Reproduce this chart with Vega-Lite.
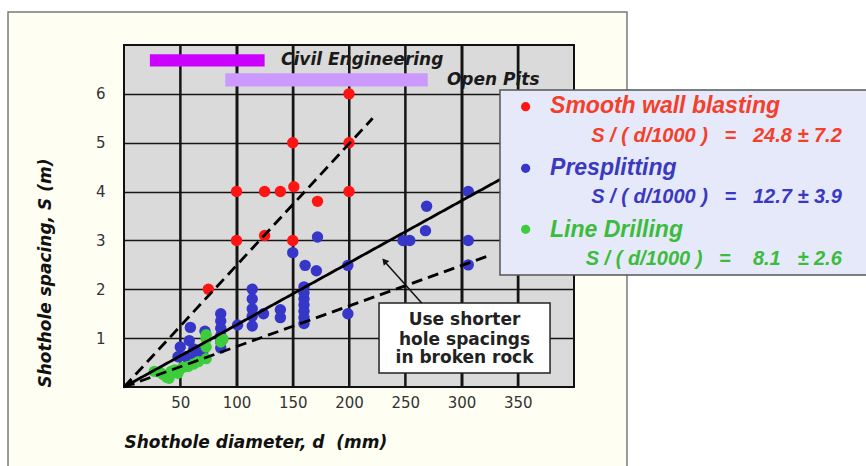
{
  "$schema": "https://vega.github.io/schema/vega-lite/v6.json",
  "width": 450,
  "height": 342,
  "autosize": "none",
  "padding": {"left": 124, "top": 45, "right": 292, "bottom": 79},
  "background": "#fefef3",
  "config": {
    "view": {"fill": "#dadada", "stroke": "#111", "strokeWidth": 2}
  },
  "datasets": {
    "points": [
      {"method": "Presplitting", "d": 48, "S": 0.62},
      {"method": "Presplitting", "d": 50, "S": 0.82},
      {"method": "Presplitting", "d": 55, "S": 0.62},
      {"method": "Presplitting", "d": 58, "S": 0.95},
      {"method": "Presplitting", "d": 59, "S": 1.22},
      {"method": "Presplitting", "d": 62, "S": 0.78},
      {"method": "Presplitting", "d": 64, "S": 0.62},
      {"method": "Presplitting", "d": 70, "S": 0.72},
      {"method": "Presplitting", "d": 72, "S": 1.14},
      {"method": "Presplitting", "d": 86, "S": 1.5},
      {"method": "Presplitting", "d": 86, "S": 1.35},
      {"method": "Presplitting", "d": 86, "S": 1.2},
      {"method": "Presplitting", "d": 86, "S": 1.05},
      {"method": "Presplitting", "d": 86, "S": 0.92},
      {"method": "Presplitting", "d": 86, "S": 0.8},
      {"method": "Presplitting", "d": 101, "S": 1.27},
      {"method": "Presplitting", "d": 114, "S": 2.0},
      {"method": "Presplitting", "d": 114, "S": 1.8},
      {"method": "Presplitting", "d": 114, "S": 1.6},
      {"method": "Presplitting", "d": 114, "S": 1.45},
      {"method": "Presplitting", "d": 114, "S": 1.25},
      {"method": "Presplitting", "d": 124, "S": 1.5},
      {"method": "Presplitting", "d": 139, "S": 1.58},
      {"method": "Presplitting", "d": 139, "S": 1.42},
      {"method": "Presplitting", "d": 150, "S": 2.75},
      {"method": "Presplitting", "d": 160, "S": 2.05},
      {"method": "Presplitting", "d": 160, "S": 1.93},
      {"method": "Presplitting", "d": 160, "S": 1.8},
      {"method": "Presplitting", "d": 160, "S": 1.68},
      {"method": "Presplitting", "d": 160, "S": 1.55},
      {"method": "Presplitting", "d": 160, "S": 1.42},
      {"method": "Presplitting", "d": 160, "S": 1.3},
      {"method": "Presplitting", "d": 161, "S": 2.49},
      {"method": "Presplitting", "d": 171, "S": 2.38},
      {"method": "Presplitting", "d": 172, "S": 3.07},
      {"method": "Presplitting", "d": 199, "S": 2.49},
      {"method": "Presplitting", "d": 199, "S": 1.5},
      {"method": "Presplitting", "d": 248, "S": 3.0},
      {"method": "Presplitting", "d": 254, "S": 3.0},
      {"method": "Presplitting", "d": 268, "S": 3.2},
      {"method": "Presplitting", "d": 269, "S": 3.7},
      {"method": "Presplitting", "d": 306, "S": 4.0},
      {"method": "Presplitting", "d": 306, "S": 3.0},
      {"method": "Presplitting", "d": 306, "S": 2.5},
      {"method": "Line Drilling", "d": 27, "S": 0.32},
      {"method": "Line Drilling", "d": 32, "S": 0.3},
      {"method": "Line Drilling", "d": 35, "S": 0.25},
      {"method": "Line Drilling", "d": 38, "S": 0.2},
      {"method": "Line Drilling", "d": 40, "S": 0.18},
      {"method": "Line Drilling", "d": 42, "S": 0.32},
      {"method": "Line Drilling", "d": 45, "S": 0.35},
      {"method": "Line Drilling", "d": 48, "S": 0.28},
      {"method": "Line Drilling", "d": 52, "S": 0.4},
      {"method": "Line Drilling", "d": 57, "S": 0.42},
      {"method": "Line Drilling", "d": 62, "S": 0.47},
      {"method": "Line Drilling", "d": 66, "S": 0.52},
      {"method": "Line Drilling", "d": 73, "S": 0.58},
      {"method": "Line Drilling", "d": 73, "S": 0.82},
      {"method": "Line Drilling", "d": 73, "S": 0.98},
      {"method": "Line Drilling", "d": 73, "S": 1.07},
      {"method": "Line Drilling", "d": 86, "S": 0.92},
      {"method": "Line Drilling", "d": 88, "S": 0.98},
      {"method": "Smooth wall blasting", "d": 75, "S": 2.0},
      {"method": "Smooth wall blasting", "d": 100, "S": 3.0},
      {"method": "Smooth wall blasting", "d": 100, "S": 4.0},
      {"method": "Smooth wall blasting", "d": 125, "S": 3.1},
      {"method": "Smooth wall blasting", "d": 125, "S": 4.0},
      {"method": "Smooth wall blasting", "d": 139, "S": 4.0},
      {"method": "Smooth wall blasting", "d": 151, "S": 4.1},
      {"method": "Smooth wall blasting", "d": 150, "S": 3.0},
      {"method": "Smooth wall blasting", "d": 150, "S": 5.0},
      {"method": "Smooth wall blasting", "d": 172, "S": 3.8},
      {"method": "Smooth wall blasting", "d": 200, "S": 4.0},
      {"method": "Smooth wall blasting", "d": 200, "S": 5.0},
      {"method": "Smooth wall blasting", "d": 200, "S": 6.0}
    ],
    "lines": [
      {"line": "upper", "d": 0, "S": 0},
      {"line": "upper", "d": 221, "S": 5.5},
      {"line": "mean", "d": 0, "S": 0},
      {"line": "mean", "d": 340, "S": 4.32},
      {"line": "lower", "d": 0, "S": 0},
      {"line": "lower", "d": 327, "S": 2.71}
    ],
    "ranges": [
      {"range": "Civil Engineering", "d": 23, "dmax": 125},
      {"range": "Open Pits", "d": 90, "dmax": 270}
    ],
    "xgrid": [
      {"d": 50}, {"d": 100}, {"d": 150}, {"d": 200}, {"d": 250}, {"d": 300}, {"d": 350}
    ],
    "one": [{}]
  },
  "layer": [
    {
      "data": {"name": "points"},
      "mark": {"type": "point", "opacity": 0, "size": 1},
      "encoding": {
        "x": {
          "field": "d", "type": "quantitative",
          "scale": {"domain": [0, 400], "nice": false, "zero": false},
          "axis": {
            "values": [50, 100, 150, 200, 250, 300, 350],
            "grid": true, "gridColor": "#151515", "gridWidth": 2,
            "ticks": false, "domain": false,
            "labelFont": "DejaVu Sans", "labelFontSize": 15, "labelColor": "#333", "labelPadding": 8,
            "title": "Shothole diameter, d\u00a0 (mm)",
            "titleFont": "DejaVu Sans", "titleFontSize": 17, "titleFontWeight": "bold", "titleFontStyle": "italic", "titleColor": "#111",
            "titleAnchor": "start", "titleAlign": "left", "titleX": 0, "titleY": 60, "titleBaseline": "alphabetic"
          }
        },
        "y": {
          "field": "S", "type": "quantitative",
          "scale": {"domain": [0, 7], "nice": false, "zero": false},
          "axis": {
            "values": [1, 2, 3, 4, 5, 6],
            "grid": true, "gridColor": "#151515", "gridWidth": 1.5,
            "ticks": false, "domain": false,
            "labelFont": "DejaVu Sans", "labelFontSize": 15, "labelColor": "#333", "labelPadding": 19,
            "title": "Shothole spacing, S (m)",
            "titleFont": "DejaVu Sans", "titleFontSize": 17, "titleFontWeight": "bold", "titleFontStyle": "italic", "titleColor": "#111",
            "titleAngle": 270, "titleAnchor": "start", "titleAlign": "left", "titleBaseline": "middle", "titleX": -79, "titleY": 342
          }
        }
      }
    },
    {
      "data": {"name": "one"},
      "mark": {"type": "rect", "color": "#ffffff"},
      "encoding": {"x": {"datum": -130}, "x2": {"datum": -103.1}, "y": {"datum": -2.5}, "y2": {"datum": 8.6}}
    },
    {
      "data": {"name": "one"},
      "mark": {"type": "rect", "color": "#ffffff"},
      "encoding": {"x": {"datum": -130}, "x2": {"datum": 700}, "y": {"datum": 7.675}, "y2": {"datum": 8.6}}
    },
    {
      "data": {"name": "one"},
      "mark": {"type": "rect", "color": "#ffffff"},
      "encoding": {"x": {"datum": 447.1}, "x2": {"datum": 700}, "y": {"datum": -2.5}, "y2": {"datum": 8.6}}
    },
    {
      "data": {"name": "one"},
      "mark": {"type": "rect", "fillOpacity": 0, "stroke": "#7a7a7a", "strokeWidth": 1.5},
      "encoding": {"x": {"datum": -103.1}, "x2": {"datum": 447.1}, "y": {"datum": -2.5}, "y2": {"datum": 7.675}}
    },
    {
      "data": {"name": "xgrid"},
      "mark": {"type": "tick", "orient": "vertical", "size": 342, "thickness": 2, "color": "#151515", "opacity": 1},
      "encoding": {"x": {"field": "d", "type": "quantitative"}, "y": {"datum": 3.5}}
    },
    {
      "data": {"name": "ranges"},
      "transform": [{"filter": "datum.range === 'Civil Engineering'"}],
      "mark": {"type": "rect", "color": "#cc00ff"},
      "encoding": {
        "x": {"field": "d", "type": "quantitative"},
        "x2": {"field": "dmax"},
        "y": {"datum": 6.56}, "y2": {"datum": 6.81}
      }
    },
    {
      "data": {"name": "ranges"},
      "transform": [{"filter": "datum.range === 'Open Pits'"}],
      "mark": {"type": "rect", "color": "#cc99ff"},
      "encoding": {
        "x": {"field": "d", "type": "quantitative"},
        "x2": {"field": "dmax"},
        "y": {"datum": 6.15}, "y2": {"datum": 6.42}
      }
    },
    {
      "data": {"name": "ranges"},
      "transform": [{"filter": "datum.range === 'Civil Engineering'"}],
      "mark": {"type": "text", "align": "left", "baseline": "middle", "font": "DejaVu Sans", "fontSize": 17, "fontWeight": "bold", "fontStyle": "italic", "color": "#1a1a1a"},
      "encoding": {"x": {"datum": 139.6}, "y": {"datum": 6.69}, "text": {"field": "range"}}
    },
    {
      "data": {"name": "ranges"},
      "transform": [{"filter": "datum.range === 'Open Pits'"}],
      "mark": {"type": "text", "align": "left", "baseline": "middle", "font": "DejaVu Sans", "fontSize": 17, "fontWeight": "bold", "fontStyle": "italic", "color": "#1a1a1a"},
      "encoding": {"x": {"datum": 287}, "y": {"datum": 6.28}, "text": {"field": "range"}}
    },
    {
      "data": {"name": "points"},
      "mark": {"type": "circle", "size": 130, "opacity": 1},
      "encoding": {
        "x": {"field": "d", "type": "quantitative"},
        "y": {"field": "S", "type": "quantitative"},
        "color": {
          "field": "method", "type": "nominal",
          "scale": {"domain": ["Smooth wall blasting", "Presplitting", "Line Drilling"], "range": ["#ff1414", "#3636c8", "#3ccc3c"]},
          "legend": null
        }
      }
    },
    {
      "data": {"name": "lines"},
      "mark": {"type": "line", "color": "#000", "strokeWidth": 2.8},
      "encoding": {
        "x": {"field": "d", "type": "quantitative"},
        "y": {"field": "S", "type": "quantitative"},
        "detail": {"field": "line"},
        "strokeDash": {
          "field": "line", "type": "nominal",
          "scale": {"domain": ["upper", "mean", "lower"], "range": [[11, 6], [1, 0], [11, 6]]},
          "legend": null
        }
      }
    },
    {
      "data": {"name": "one"},
      "mark": {"type": "point", "shape": "triangle-up", "filled": true, "color": "#000", "size": 70, "angle": 241, "opacity": 1},
      "encoding": {"x": {"datum": 5}, "y": {"datum": 0.07}}
    },
    {
      "data": {"name": "one"},
      "mark": {"type": "rect", "fill": "#e6e9f9", "stroke": "#555", "strokeWidth": 1.5},
      "encoding": {"x": {"datum": 334.2}, "x2": {"datum": 662}, "y": {"datum": 6.08}, "y2": {"datum": 2.29}}
    },
    {
      "data": {"name": "one"},
      "mark": {"type": "circle", "size": 85, "opacity": 1, "color": "#ff1414"},
      "encoding": {"x": {"datum": 357}, "y": {"datum": 5.737}}
    },
    {
      "data": {"name": "one"},
      "mark": {"type": "circle", "size": 85, "opacity": 1, "color": "#3636c8"},
      "encoding": {"x": {"datum": 357}, "y": {"datum": 4.476}}
    },
    {
      "data": {"name": "one"},
      "mark": {"type": "circle", "size": 85, "opacity": 1, "color": "#3ccc3c"},
      "encoding": {"x": {"datum": 357}, "y": {"datum": 3.228}}
    },
    {
      "data": {"name": "one"},
      "mark": {"type": "text", "text": "Smooth wall blasting", "align": "left", "baseline": "alphabetic", "font": "Liberation Sans", "fontSize": 23, "fontWeight": "bold", "fontStyle": "italic", "color": "#f2402c"},
      "encoding": {"x": {"datum": 378.7}, "y": {"datum": 5.6}}
    },
    {
      "data": {"name": "one"},
      "mark": {"type": "text", "text": "S / ( d/1000 )\u00a0\u00a0 =\u00a0\u00a0 24.8 ± 7.2", "align": "right", "baseline": "alphabetic", "font": "Liberation Sans", "fontSize": 20, "fontWeight": "bold", "fontStyle": "italic", "color": "#f2402c"},
      "encoding": {"x": {"datum": 638}, "y": {"datum": 5.02}}
    },
    {
      "data": {"name": "one"},
      "mark": {"type": "text", "text": "Presplitting", "align": "left", "baseline": "alphabetic", "font": "Liberation Sans", "fontSize": 23, "fontWeight": "bold", "fontStyle": "italic", "color": "#3a3ac0"},
      "encoding": {"x": {"datum": 378.7}, "y": {"datum": 4.34}}
    },
    {
      "data": {"name": "one"},
      "mark": {"type": "text", "text": "S / ( d/1000 )\u00a0\u00a0 =\u00a0\u00a0 12.7 ± 3.9", "align": "right", "baseline": "alphabetic", "font": "Liberation Sans", "fontSize": 20, "fontWeight": "bold", "fontStyle": "italic", "color": "#3a3ac0"},
      "encoding": {"x": {"datum": 638}, "y": {"datum": 3.76}}
    },
    {
      "data": {"name": "one"},
      "mark": {"type": "text", "text": "Line Drilling", "align": "left", "baseline": "alphabetic", "font": "Liberation Sans", "fontSize": 23, "fontWeight": "bold", "fontStyle": "italic", "color": "#3cbc3c"},
      "encoding": {"x": {"datum": 378.7}, "y": {"datum": 3.077}}
    },
    {
      "data": {"name": "one"},
      "mark": {"type": "text", "text": "S / ( d/1000 )\u00a0\u00a0 =\u00a0\u00a0\u00a0 8.1\u00a0\u00a0 ± 2.6", "align": "right", "baseline": "alphabetic", "font": "Liberation Sans", "fontSize": 20, "fontWeight": "bold", "fontStyle": "italic", "color": "#3cbc3c"},
      "encoding": {"x": {"datum": 638}, "y": {"datum": 2.497}}
    },
    {
      "data": {"name": "one"},
      "mark": {"type": "rect", "fill": "#ffffff", "stroke": "#222", "strokeWidth": 1.5},
      "encoding": {"x": {"datum": 226.7}, "x2": {"datum": 378.7}, "y": {"datum": 1.719}, "y2": {"datum": 0.287}}
    },
    {
      "data": {"name": "one"},
      "mark": {"type": "text", "text": "Use shorter", "align": "center", "baseline": "alphabetic", "font": "DejaVu Sans", "fontSize": 17, "fontWeight": "bold", "color": "#222"},
      "encoding": {"x": {"datum": 302.7}, "y": {"datum": 1.269}}
    },
    {
      "data": {"name": "one"},
      "mark": {"type": "text", "text": "hole spacings", "align": "center", "baseline": "alphabetic", "font": "DejaVu Sans", "fontSize": 17, "fontWeight": "bold", "color": "#222"},
      "encoding": {"x": {"datum": 302.7}, "y": {"datum": 0.86}}
    },
    {
      "data": {"name": "one"},
      "mark": {"type": "text", "text": "in broken rock", "align": "center", "baseline": "alphabetic", "font": "DejaVu Sans", "fontSize": 17, "fontWeight": "bold", "color": "#222"},
      "encoding": {"x": {"datum": 302.7}, "y": {"datum": 0.485}}
    },
    {
      "data": {"name": "one"},
      "mark": {"type": "rule", "color": "#111", "strokeWidth": 1.5},
      "encoding": {"x": {"datum": 264.6}, "y": {"datum": 1.72}, "x2": {"datum": 232}, "y2": {"datum": 2.56}}
    },
    {
      "data": {"name": "one"},
      "mark": {"type": "point", "shape": "triangle-up", "filled": true, "color": "#111", "size": 55, "angle": 318.6, "opacity": 1},
      "encoding": {"x": {"datum": 231.5}, "y": {"datum": 2.58}}
    }
  ]
}
